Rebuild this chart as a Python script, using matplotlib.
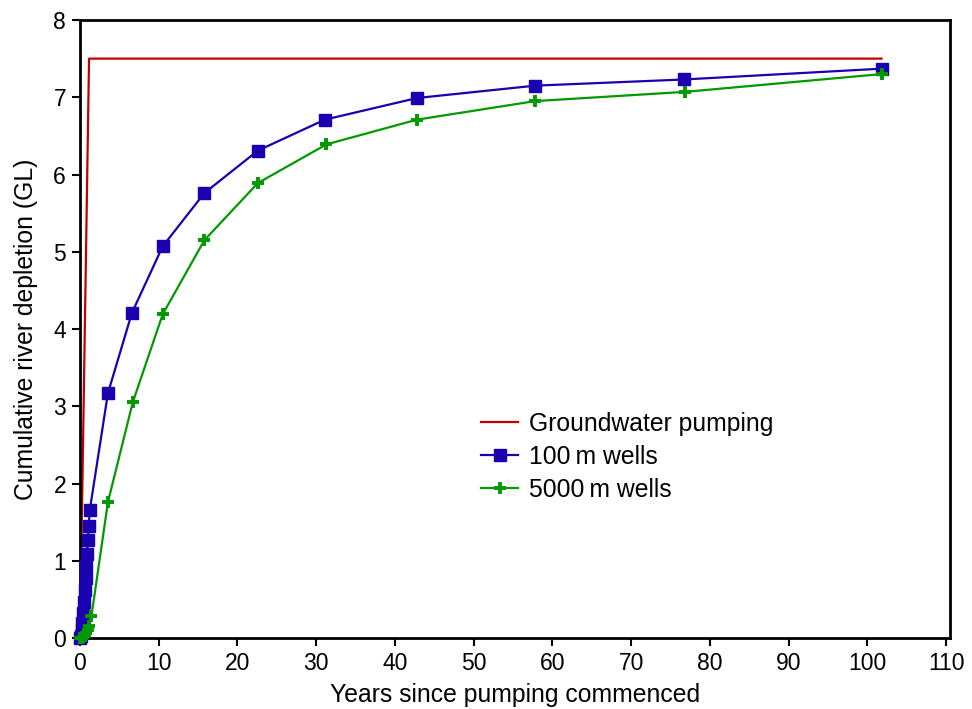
import matplotlib
matplotlib.use("Agg")
import matplotlib.pyplot as plt

plt.rcParams['font.family'] = ['Liberation Sans', 'DejaVu Sans']

pump_x = [0, 1.15, 101.8]
pump_y = [0, 7.5, 7.5]

w100_x = [0, 0.1, 0.2, 0.3, 0.4, 0.5, 0.6, 0.7, 0.8, 0.9, 1.0, 1.1, 1.25,
          3.55, 6.6, 10.5, 15.8, 22.6, 31.1, 42.8, 57.8, 76.7, 101.8]
w100_y = [0, 0.03, 0.1, 0.2, 0.33, 0.47, 0.62, 0.78, 0.93, 1.09, 1.27, 1.45, 1.66,
          3.17, 4.21, 5.07, 5.76, 6.31, 6.71, 6.99, 7.15, 7.23, 7.37]

w5000_x = [0, 0.2, 0.4, 0.6, 0.8, 1.0, 1.2, 1.45,
           3.55, 6.7, 10.5, 15.8, 22.6, 31.3, 42.8, 57.8, 76.9, 101.8]
w5000_y = [0, 0.005, 0.015, 0.03, 0.06, 0.1, 0.16, 0.28,
           1.76, 3.05, 4.19, 5.15, 5.89, 6.39, 6.71, 6.95, 7.07, 7.30]

xticks = list(range(0, 111, 10))
yticks = list(range(0, 9))

fig = plt.figure(figsize=(9.72, 7.09), dpi=100)
ax = fig.add_axes([0.0823, 0.1001, 0.8951, 0.8717])

ax.plot(pump_x, pump_y, color='#C00000', lw=1.6, label='Groundwater pumping', zorder=2)
ax.plot(w100_x, w100_y, color='#1A00B0', lw=1.6, marker='s', ms=8.5,
        label='100\u2009m wells', zorder=3, clip_on=False)
ax.plot(w5000_x, w5000_y, color='#009900', lw=1.6, marker='+', ms=9, mew=2.8,
        label='5000\u2009m wells', zorder=3, clip_on=False)

ax.set_xlim(0, 110.5)
ax.set_ylim(0, 8)
ax.set_xticks(xticks)
ax.set_yticks(yticks)
ax.tick_params(direction='out', length=6, width=1.5, labelsize=16.5, pad=4)
for s in ax.spines.values():
    s.set_linewidth(2)
ax.set_xlabel('Years since pumping commenced', fontsize=17.8, labelpad=6)
ax.set_ylabel('Cumulative river depletion (GL)', fontsize=17.8, labelpad=11)

leg = ax.legend(loc='upper left', bbox_to_anchor=(0.461, 0.366), frameon=False,
                fontsize=17.8, borderpad=0, borderaxespad=0, handlelength=1.5,
                handletextpad=0.45, labelspacing=0.36, numpoints=1)

fig.savefig('out.png', dpi=100)
